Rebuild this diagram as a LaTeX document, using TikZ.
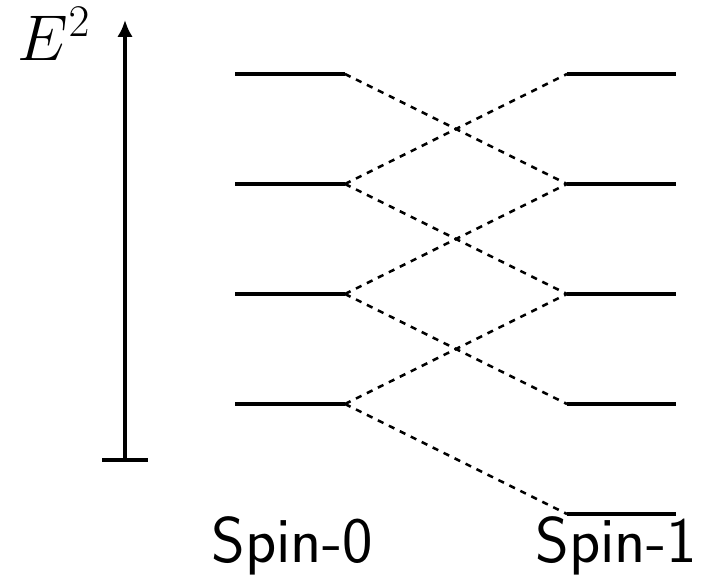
\documentclass[tikz,border=0pt]{standalone}
\usepackage{fix-cm}
\usepackage{amsmath}
\usetikzlibrary{arrows.meta}

\begin{document}
\begin{tikzpicture}[every node/.style={font=\fontsize{46}{54}\selectfont},
  level/.style={line width=3.4pt},
  link/.style={line width=1.8pt,dash pattern=on 4.4pt off 4.3pt}]
\useasboundingbox (0,0) rectangle (17.725,14.55);
% energy axis
\coordinate (base) at (3.125,3.05);
\coordinate (top) at (3.125,14.05);
\draw[line width=2.3pt,-{Latex[length=12pt,width=11pt]}] (base) -- (top);
\draw[line width=2.3pt] (base) ++(-0.575,0) -- ++(1.15,0);
\node (energy) at (1.35,13.7) {$E^2$};
% levels
\foreach \i/\y in {0/12.7,1/9.95,2/7.2,3/4.45}
  \draw[level] (5.875,\y) -- (8.625,\y) coordinate (s0\i);
\foreach \i/\y in {0/12.7,1/9.95,2/7.2,3/4.45,4/1.7}
  \draw[level] (14.175,\y) coordinate (s1\i) -- (16.9,\y);
% mixing
\foreach \i/\j in {0/1,1/0,1/2,2/1,2/3,3/2,3/4}
  \draw[link] (s0\i) -- (s1\j);
\node[anchor=base] (spin0) at (7.3,0.5) {\sffamily Spin-0};
\node[anchor=base] (spin1) at (15.4,0.5) {\sffamily Spin-1};
\end{tikzpicture}
\end{document}
